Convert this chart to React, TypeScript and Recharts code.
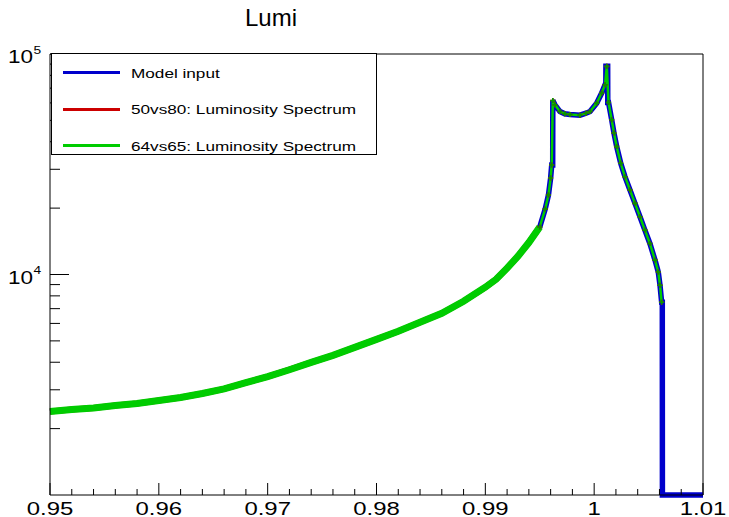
import { LineChart, Line, XAxis, YAxis, ReferenceLine } from 'recharts'

// bin positions (finer around the two peaks)
const xValues = [
  0.95, 0.952, 0.954, 0.956, 0.958, 0.96, 0.962, 0.964, 0.966, 0.968,
  0.97, 0.972, 0.974, 0.976, 0.978, 0.98, 0.982, 0.984, 0.986, 0.988,
  0.99, 0.991, 0.992, 0.993, 0.994, 0.995, 0.9955, 0.9958, 0.996, 0.9961,
  0.99619, 0.9962, 0.9964, 0.99686, 0.9973, 0.99778, 0.9987, 0.99925, 0.99962, 1.00023,
  1.00069, 1.001, 1.00107, 1.00108, 1.00116, 1.00124, 1.00125, 1.00132, 1.00161, 1.00182,
  1.00207, 1.00244, 1.00283, 1.00329, 1.00375, 1.00421, 1.00466, 1.00512, 1.00559, 1.00589,
  1.00605, 1.0062, 1.00626, 1.00627, 1.01,
]

// model input histogram (empty bins sit on the frame floor)
const modelInput = [
  2391, 2442, 2480, 2546, 2600, 2683, 2769, 2887, 3030, 3230,
  3440, 3700, 3994, 4297, 4672, 5079, 5525, 6071, 6671, 7560,
  8756, 9520, 10680, 12110, 13960, 16420, 19810, 22940, 27400, 31390,
  31390, 61500, 58830, 54830, 53530, 53150, 52800, 53900, 54830, 59850,
  66500, 72540, 72540, 87900, 87900, 87900, 60270, 60270, 50300, 43850,
  38020, 31950, 27770, 24160, 21020, 18270, 15900, 13830, 11620, 10270,
  8940, 7480, 7480, 1000, 1000,
]

const lumi5080 = [
  2391, 2442, 2480, 2546, 2600, 2683, 2769, 2887, 3030, 3230,
  3440, 3700, 3994, 4297, 4672, 5079, 5525, 6071, 6671, 7560,
  8756, 9520, 10680, 12110, 13960, 16420, 19810, 22940, 27400, 31390,
  null, 61500, 58830, 54830, 53530, 53150, 52800, 53900, 54830, 59850,
  66500, 72540, null, null, 87900, null, null, 60270, 50300, 43850,
  38020, 31950, 27770, 24160, 21020, 18270, 15900, 13830, 11620, 10270,
  8940, 7480, null, null, null,
]

const lumi6465 = [
  2391, 2442, 2480, 2546, 2600, 2683, 2769, 2887, 3030, 3230,
  3440, 3700, 3994, 4297, 4672, 5079, 5525, 6071, 6671, 7560,
  8756, 9520, 10680, 12110, 13960, 16420, 19810, 22940, 27400, 31390,
  null, 61500, 58830, 54830, 53530, 53150, 52800, 53900, 54830, 59850,
  66500, 72540, null, null, 87900, null, null, 60270, 50300, 43850,
  38020, 31950, 27770, 24160, 21020, 18270, 15900, 13830, 11620, 10270,
  8940, 7480, null, null, null,
]

const xMajorTicks = [0.95, 0.96, 0.97, 0.98, 0.99, 1, 1.01]
const xMinorTicks = [
  0.952, 0.954, 0.956, 0.958, 0.962, 0.964, 0.966, 0.968,
  0.972, 0.974, 0.976, 0.978, 0.982, 0.984, 0.986, 0.988,
  0.992, 0.994, 0.996, 0.998, 1.002, 1.004, 1.006, 1.008,
]
const yMajorTicks = [10000, 100000]
const yMinorTicks = [2000, 3000, 4000, 5000, 6000, 7000, 8000, 9000, 20000, 30000, 40000, 50000, 60000, 70000, 80000, 90000]

const legendItems = [
  { label: 'Model input', color: '#0000cc' },
  { label: '50vs80: Luminosity Spectrum', color: '#cc0000' },
  { label: '64vs65: Luminosity Spectrum', color: '#00cc00' },
]

// points up to here are drawn as a thick band, after it as markers on the model line
const bandEnd = 0.9945

const FONT = '"Liberation Sans", Arial, Helvetica, sans-serif'

const data = xValues.map((x, i) => ({
  x,
  model: modelInput[i],
  redBand: x <= bandEnd + 0.0006 ? lumi5080[i] : null,
  greenBand: x <= bandEnd + 0.0006 ? lumi6465[i] : null,
  redPeak: x > bandEnd ? lumi5080[i] : null,
  greenPeak: x > bandEnd ? lumi6465[i] : null,
}))

const crossDot = (color: string) => (props: any) => {
  const { cx, cy, index } = props
  if (cy == null || Number.isNaN(cy)) return <g key={index} />
  return (
    <path
      key={index}
      d={`M${cx - 2.5},${cy}h5M${cx},${cy - 2.5}v5`}
      stroke={color}
      strokeWidth={1.6}
      fill="none"
    />
  )
}

const XTick = (props: any) => {
  const { x, y, payload } = props
  const v = payload.value
  const major = xMajorTicks.some(t => Math.abs(t - v) < 1e-7)
  return (
    <g>
      <line x1={x} y1={y} x2={x} y2={y - (major ? 12 : 6)} stroke="#000" />
      {major && (
        <text
          transform={`translate(${x},${y + 20}) scale(1.33,1)`}
          textAnchor="middle"
          fontSize={18}
          fontFamily={FONT}
          fill="#000"
        >
          {String(v)}
        </text>
      )}
    </g>
  )
}

const YTick = (props: any) => {
  const { x, y, payload } = props
  const v = payload.value
  const major = yMajorTicks.includes(v)
  const exp = Math.round(Math.log10(v))
  return (
    <g>
      <line x1={x} y1={y} x2={x + (major ? 19 : 10)} y2={y} stroke="#000" />
      {major && (
        <g fontFamily={FONT} fill="#000">
          <text transform={`translate(${x - 17},${y + 9.3}) scale(1.25,1)`} textAnchor="end" fontSize={18}>
            10
          </text>
          <text transform={`translate(${x - 16.5},${y - 0.5}) scale(1.25,1)`} textAnchor="start" fontSize={11}>
            {exp}
          </text>
        </g>
      )}
    </g>
  )
}

export default function App() {
  return (
    <div style={{ position: 'absolute', left: 0, top: 0, width: 729, height: 517, background: '#fff' }}>
      <LineChart width={729} height={517} data={data} margin={{ top: 54, right: 26, bottom: 0, left: 0 }}>
        <XAxis
          dataKey="x"
          type="number"
          domain={[0.95, 1.01]}
          ticks={[...xMajorTicks, ...xMinorTicks].sort((a, b) => a - b)}
          interval={0}
          height={22}
          tickSize={0}
          tickMargin={0}
          tickLine={false}
          axisLine={{ stroke: '#000' }}
          tick={<XTick />}
        />
        <YAxis
          type="number"
          scale="log"
          domain={[1000, 100000]}
          ticks={[...yMinorTicks, ...yMajorTicks].sort((a, b) => a - b)}
          interval={0}
          width={50}
          tickSize={0}
          tickMargin={0}
          tickLine={false}
          axisLine={{ stroke: '#000' }}
          tick={<YTick />}
        />
        <ReferenceLine y={100000} stroke="#000" />
        <ReferenceLine x={1.01} stroke="#000" />
        <Line type="linear" dataKey="model" stroke="#0000cc" strokeWidth={5.5} dot={false} isAnimationActive={false} />
        <Line type="linear" dataKey="redBand" stroke="#cc0000" strokeWidth={6} dot={false} isAnimationActive={false} />
        <Line type="linear" dataKey="greenBand" stroke="#00cc00" strokeWidth={7} dot={false} isAnimationActive={false} />
        <Line type="linear" dataKey="redPeak" stroke="none" connectNulls dot={crossDot('#cc0000')} isAnimationActive={false} />
        <Line
          type="linear"
          dataKey="greenPeak"
          stroke="#00cc00"
          strokeWidth={2.5}
          connectNulls
          dot={crossDot('#009900')}
          isAnimationActive={false}
        />
      </LineChart>

      <div
        style={{
          position: 'absolute',
          left: 245,
          top: 6,
          fontFamily: FONT,
          fontSize: 24,
          lineHeight: '24px',
          color: '#000',
        }}
      >
        Lumi
      </div>

      <div
        style={{
          position: 'absolute',
          left: 51,
          top: 53,
          width: 326,
          height: 102,
          border: '1px solid #000',
          boxSizing: 'border-box',
          background: '#fff',
        }}
      >
        {legendItems.map((item, i) => (
          <div key={item.label}>
            <div
              style={{
                position: 'absolute',
                left: 11,
                top: 17 + i * 36.7,
                width: 57,
                height: 3,
                background: item.color,
              }}
            />
            <div
              style={{
                position: 'absolute',
                left: 79,
                top: 12.5 + i * 36.7,
                fontFamily: FONT,
                fontSize: 13,
                lineHeight: '13px',
                whiteSpace: 'nowrap',
                color: '#000',
                transform: 'scaleX(1.32)',
                transformOrigin: 'left center',
              }}
            >
              {item.label}
            </div>
          </div>
        ))}
      </div>
    </div>
  )
}
